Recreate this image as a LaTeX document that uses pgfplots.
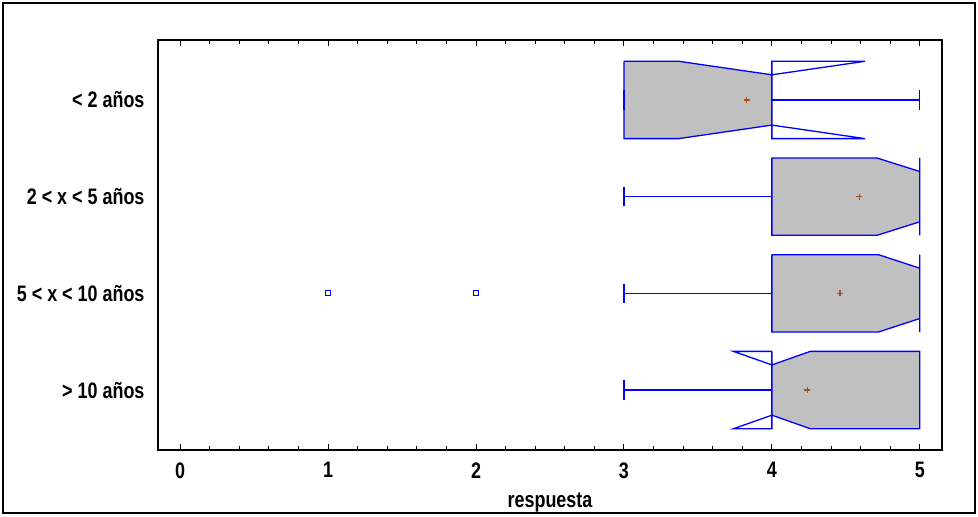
\documentclass[border=0pt]{standalone}
\usepackage{fontspec}
\setmainfont{Liberation Sans}[FakeStretch=0.8]
\usepackage{pgfplots}
\pgfplotsset{compat=1.18}
\definecolor{boxblue}{RGB}{0,0,255}
\definecolor{boxgray}{RGB}{192,192,192}
\definecolor{meanbrown}{RGB}{170,80,20}

\begin{document}
\begin{tikzpicture}
\useasboundingbox (-158bp,-67bp) rectangle (820bp,450bp);
% outer frame
\draw[line width=1.5bp] (-155bp,-63bp) rectangle (817bp,447bp);
\begin{axis}[
    at={(0,0)}, anchor=south west,
    scale only axis, width=784bp, height=410bp,
    xmin=-0.15, xmax=5.15, ymin=0.38, ymax=4.62,
    axis line style={line width=1.5bp},
    xtick={0,1,2,3,4,5}, minor x tick num=4,
    xtick pos=both, tick align=inside,
    major tick length=6bp, minor tick length=4bp,
    every tick/.style={black, line width=1bp},
    ytick={1,2,3,4},
    yticklabels={{> 10 años},{5 < x < 10 años},{2 < x < 5 años},{< 2 años}},
    major y tick style={draw=none},
    tick label style={font=\fontsize{22.5}{26}\selectfont\bfseries},
    /pgf/number format/assume math mode=true,
    xticklabel style={yshift=-9bp},
    yticklabel style={xshift=-10bp},
    xlabel={respuesta},
    xlabel style={font=\fontsize{22.5}{26}\selectfont\bfseries, yshift=-8bp},
]
% box fills (notched body)
\addplot[fill=boxgray, draw=none] coordinates {
  (3,4.4) (3.37,4.4) (4,4.26) (4,3.74) (3.37,3.6) (3,3.6) (3,4.4)};
\addplot[fill=boxgray, draw=none] coordinates {
  (4,3.4) (4.71,3.4) (5,3.26) (5,2.74) (4.71,2.6) (4,2.6) (4,3.4)};
\addplot[fill=boxgray, draw=none] coordinates {
  (4,2.4) (4.72,2.4) (5,2.26) (5,1.74) (4.72,1.6) (4,1.6) (4,2.4)};
\addplot[fill=boxgray, draw=none] coordinates {
  (4,1.26) (4.26,1.4) (5,1.4) (5,0.6) (4.26,0.6) (4,0.74) (4,1.26)};

% box outlines
\pgfplotsset{every axis plot/.append style={boxblue, line width=1.3bp, line join=miter}}
\addplot[mark=none] coordinates {
  (3,4.4) (3.37,4.4) (4,4.26) (4.63,4.4) (4,4.4) (4,3.6) (4.63,3.6)
  (4,3.74) (3.37,3.6) (3,3.6) (3,4.4)};
\addplot[mark=none] coordinates {
  (4,3.4) (4.71,3.4) (5,3.26) (5,3.4) (5,2.6) (5,2.74) (4.71,2.6)
  (4,2.6) (4,3.4)};
\addplot[mark=none] coordinates {
  (4,2.4) (4.72,2.4) (5,2.26) (5,2.4) (5,1.6) (5,1.74) (4.72,1.6)
  (4,1.6) (4,2.4)};
\addplot[mark=none] coordinates {
  (4,1.4) (3.74,1.4) (4,1.26) (4.26,1.4) (5,1.4) (5,0.6) (4.26,0.6)
  (4,0.74) (3.74,0.6) (4,0.6) (4,1.4)};

% whiskers and caps
\addplot[mark=none] coordinates {(4,4) (5,4)};
\addplot[mark=none] coordinates {(5,3.9) (5,4.1)};
\addplot[mark=none] coordinates {(3,3.9) (3,4.1)};
\addplot[mark=none] coordinates {(3,3) (4,3)};
\addplot[mark=none] coordinates {(3,2.9) (3,3.1)};
\addplot[mark=none] coordinates {(3,2) (4,2)};
\addplot[mark=none] coordinates {(3,1.9) (3,2.1)};
\addplot[mark=none] coordinates {(3,1) (4,1)};
\addplot[mark=none] coordinates {(3,0.9) (3,1.1)};
\addplot[mark=none] coordinates {(5,0.9) (5,1.1)};

% outliers
\addplot[only marks, mark=square, mark size=2.5bp, line width=1.2bp] coordinates {(1,2) (2,2)};
% means
\addplot[only marks, mark=+, mark size=3bp, line width=1.2bp, meanbrown] coordinates {
  (3.83,4) (4.59,3) (4.46,2) (4.24,1)};
\end{axis}
\end{tikzpicture}
\end{document}
